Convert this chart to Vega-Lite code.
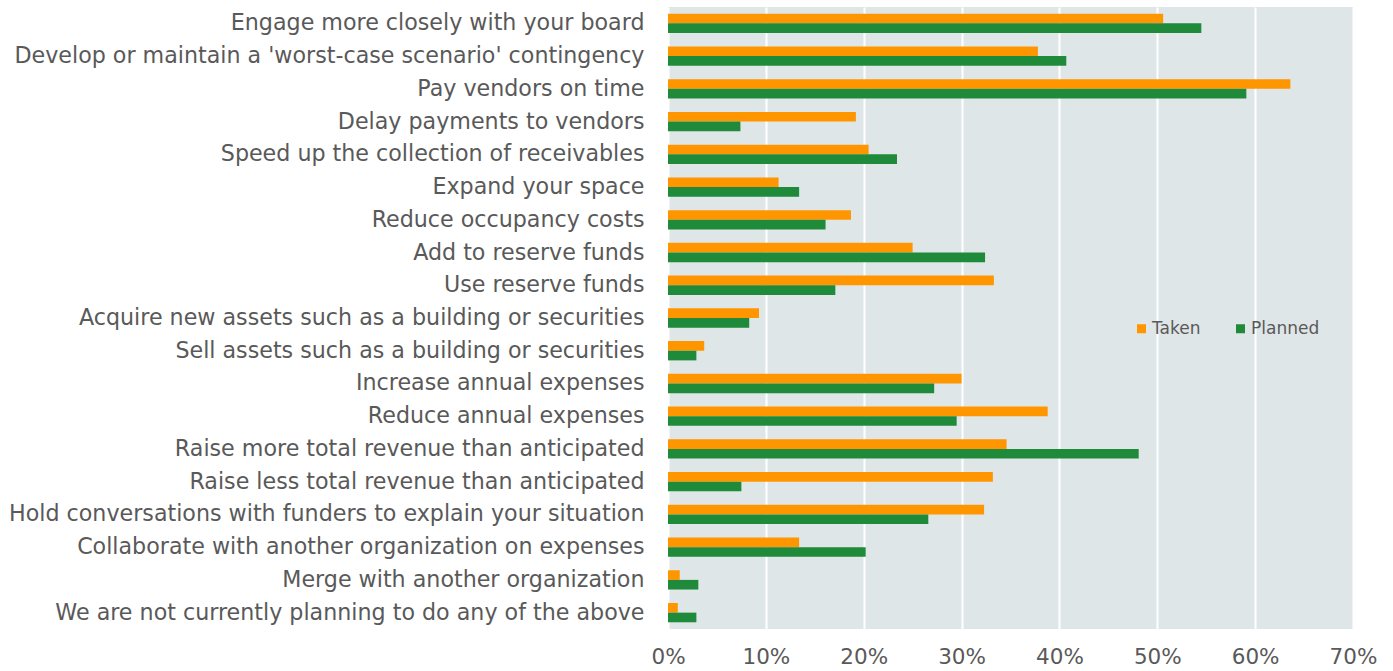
{
  "$schema": "https://vega.github.io/schema/vega-lite/v6.json",
  "autosize": "none",
  "padding": {"left": 668, "top": 7, "right": 41, "bottom": 42},
  "width": 685,
  "height": 622,
  "background": "#ffffff",
  "config": {
    "view": {"fill": "#DFE6E8", "stroke": null},
    "font": "DejaVu Sans"
  },
  "data": {
    "values": [
      {"action": "Engage more closely with your board", "series": "Taken", "pct": 50.6},
      {"action": "Engage more closely with your board", "series": "Planned", "pct": 54.5},
      {"action": "Develop or maintain a 'worst-case scenario' contingency", "series": "Taken", "pct": 37.8},
      {"action": "Develop or maintain a 'worst-case scenario' contingency", "series": "Planned", "pct": 40.7},
      {"action": "Pay vendors on time", "series": "Taken", "pct": 63.6},
      {"action": "Pay vendors on time", "series": "Planned", "pct": 59.1},
      {"action": "Delay payments to vendors", "series": "Taken", "pct": 19.2},
      {"action": "Delay payments to vendors", "series": "Planned", "pct": 7.4},
      {"action": "Speed up the collection of receivables", "series": "Taken", "pct": 20.5},
      {"action": "Speed up the collection of receivables", "series": "Planned", "pct": 23.4},
      {"action": "Expand your space", "series": "Taken", "pct": 11.3},
      {"action": "Expand your space", "series": "Planned", "pct": 13.4},
      {"action": "Reduce occupancy costs", "series": "Taken", "pct": 18.7},
      {"action": "Reduce occupancy costs", "series": "Planned", "pct": 16.1},
      {"action": "Add to reserve funds", "series": "Taken", "pct": 25.0},
      {"action": "Add to reserve funds", "series": "Planned", "pct": 32.4},
      {"action": "Use reserve funds", "series": "Taken", "pct": 33.3},
      {"action": "Use reserve funds", "series": "Planned", "pct": 17.1},
      {"action": "Acquire new assets such as a building or securities", "series": "Taken", "pct": 9.3},
      {"action": "Acquire new assets such as a building or securities", "series": "Planned", "pct": 8.3},
      {"action": "Sell assets such as a building or securities", "series": "Taken", "pct": 3.7},
      {"action": "Sell assets such as a building or securities", "series": "Planned", "pct": 2.9},
      {"action": "Increase annual expenses", "series": "Taken", "pct": 30.0},
      {"action": "Increase annual expenses", "series": "Planned", "pct": 27.2},
      {"action": "Reduce annual expenses", "series": "Taken", "pct": 38.8},
      {"action": "Reduce annual expenses", "series": "Planned", "pct": 29.5},
      {"action": "Raise more total revenue than anticipated", "series": "Taken", "pct": 34.6},
      {"action": "Raise more total revenue than anticipated", "series": "Planned", "pct": 48.1},
      {"action": "Raise less total revenue than anticipated", "series": "Taken", "pct": 33.2},
      {"action": "Raise less total revenue than anticipated", "series": "Planned", "pct": 7.5},
      {"action": "Hold conversations with funders to explain your situation", "series": "Taken", "pct": 32.3},
      {"action": "Hold conversations with funders to explain your situation", "series": "Planned", "pct": 26.6},
      {"action": "Collaborate with another organization on expenses", "series": "Taken", "pct": 13.4},
      {"action": "Collaborate with another organization on expenses", "series": "Planned", "pct": 20.2},
      {"action": "Merge with another organization", "series": "Taken", "pct": 1.2},
      {"action": "Merge with another organization", "series": "Planned", "pct": 3.1},
      {"action": "We are not currently planning to do any of the above", "series": "Taken", "pct": 1.0},
      {"action": "We are not currently planning to do any of the above", "series": "Planned", "pct": 2.9}
    ]
  },
  "mark": {"type": "bar"},
  "encoding": {
    "y": {
      "field": "action",
      "type": "nominal",
      "sort": null,
      "scale": {"paddingInner": 0.41, "paddingOuter": 0.205},
      "axis": {
        "title": null,
        "domain": false,
        "ticks": false,
        "grid": false,
        "labelFontSize": 22.2,
        "labelColor": "#595959",
        "labelPadding": 24,
        "labelLimit": 700
      }
    },
    "yOffset": {"field": "series", "sort": ["Taken", "Planned"]},
    "x": {
      "field": "pct",
      "type": "quantitative",
      "scale": {"domain": [0, 70], "nice": false},
      "axis": {
        "title": null,
        "values": [0, 10, 20, 30, 40, 50, 60, 70],
        "labelExpr": "datum.value + '%'",
        "labelFlush": false,
        "domain": false,
        "ticks": false,
        "grid": true,
        "gridColor": "#ffffff",
        "gridWidth": 2,
        "labelFontSize": 21.5,
        "labelColor": "#595959",
        "labelPadding": 17
      }
    },
    "color": {
      "field": "series",
      "type": "nominal",
      "scale": {"domain": ["Taken", "Planned"], "range": ["#FF9600", "#1E8A3A"]},
      "legend": {
        "title": null,
        "orient": "none",
        "direction": "horizontal",
        "legendX": 465,
        "legendY": 313,
        "symbolType": "square",
        "symbolSize": 81,
        "symbolStrokeWidth": 0,
        "labelFontSize": 17,
        "labelColor": "#595959",
        "labelOffset": 2,
        "columnPadding": 31
      }
    }
  }
}
